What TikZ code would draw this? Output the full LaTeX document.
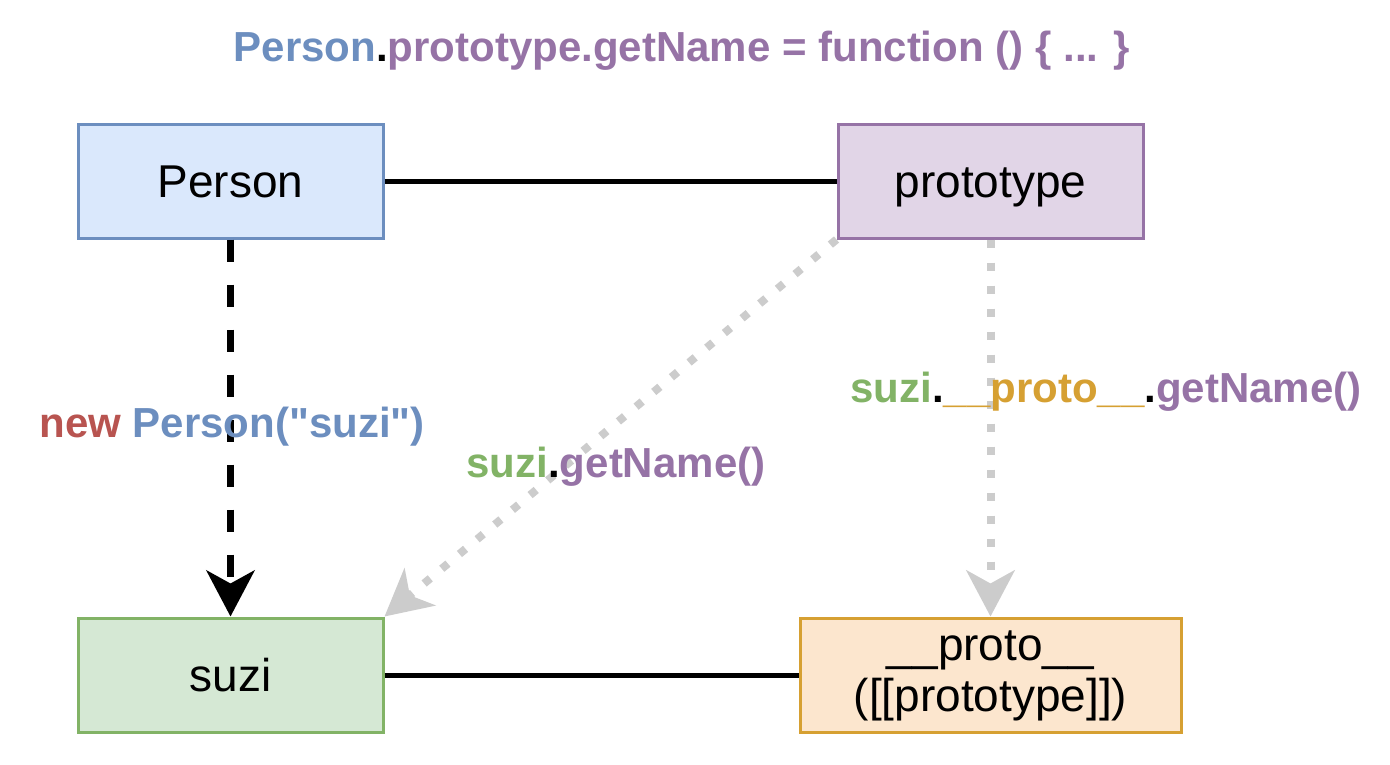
\documentclass[tikz,border=0pt]{standalone}
\usepackage{fontspec}
\setmainfont{Liberation Sans}[Ligatures=TeXOff]
\usetikzlibrary{arrows.meta}
\definecolor{cblue}{HTML}{6C8EBF}
\definecolor{cpurple}{HTML}{9673A6}
\definecolor{cgreen}{HTML}{82B366}
\definecolor{cred}{HTML}{B85450}
\definecolor{cgold}{HTML}{D6A032}
\definecolor{fblue}{HTML}{DAE8FC}
\definecolor{fpurple}{HTML}{E1D5E7}
\definecolor{fgreen}{HTML}{D5E8D4}
\definecolor{forange}{HTML}{FCE6CE}
\definecolor{cgray}{HTML}{CCCCCC}
\tikzset{
  box/.style={draw, line width=3pt, minimum width=305pt, minimum height=114pt,
    inner sep=0pt, align=center, font=\fontsize{46}{51}\selectfont},
  onebox/.style={box, text height=33pt, text depth=0pt},
  lbl/.style={inner sep=0pt, font=\fontsize{42}{46}\selectfont\bfseries},
  solidline/.style={draw=black, line width=5pt},
  dasharrow/.style={draw=black, line width=7pt, dash pattern=on 22pt off 23pt,
    -{Stealth[length=46pt, width=48pt, inset=13pt]}},
  dotarrow/.style={draw=cgray, line width=8pt, dash pattern=on 8pt off 15pt,
    -{Stealth[length=46pt, width=48pt, inset=13pt]}}
}
\begin{document}
\begin{tikzpicture}[x=1pt,y=-1pt]
\useasboundingbox[fill=white] (0,0) rectangle (1390,764);
\node[onebox, fill=fblue, draw=cblue] (person) at (230.5,181) {Person};
\node[onebox, fill=fpurple, draw=cpurple] (prototype) at (990.5,181) {prototype};
\node[onebox, fill=fgreen, draw=cgreen] (suzi) at (230.5,675) {suzi};
\node[box, fill=forange, draw=cgold, minimum width=381pt] (proto) at (990.5,675)
  {\rule{0pt}{33pt}\_\_proto\_\_\\([[prototype]])\rule[-12pt]{0pt}{12pt}};

\draw[solidline] (person) -- (prototype);
\draw[solidline] (suzi) -- (proto);
\draw[dasharrow] (person) -- (suzi);
\draw[dotarrow] (prototype.south west) -- (suzi.north east);
\draw[dotarrow] (prototype) -- (proto);

\node[lbl] (title) at (682,51) {\textcolor{cblue}{Person}.\textcolor{cpurple}{prototype.getName = function () \{ ... \}}};
\node[lbl] (newlbl) at (232,427) {\textcolor{cred}{new} \textcolor{cblue}{Person("suzi")}};
\node[lbl] (getlbl) at (616,467) {\textcolor{cgreen}{suzi}.\textcolor{cpurple}{getName()}};
\node[lbl] (protolbl) at (1106,392) {\textcolor{cgreen}{suzi}.\textcolor{cgold}{\_\_proto\_\_}.\textcolor{cpurple}{getName()}};
\end{tikzpicture}
\end{document}
